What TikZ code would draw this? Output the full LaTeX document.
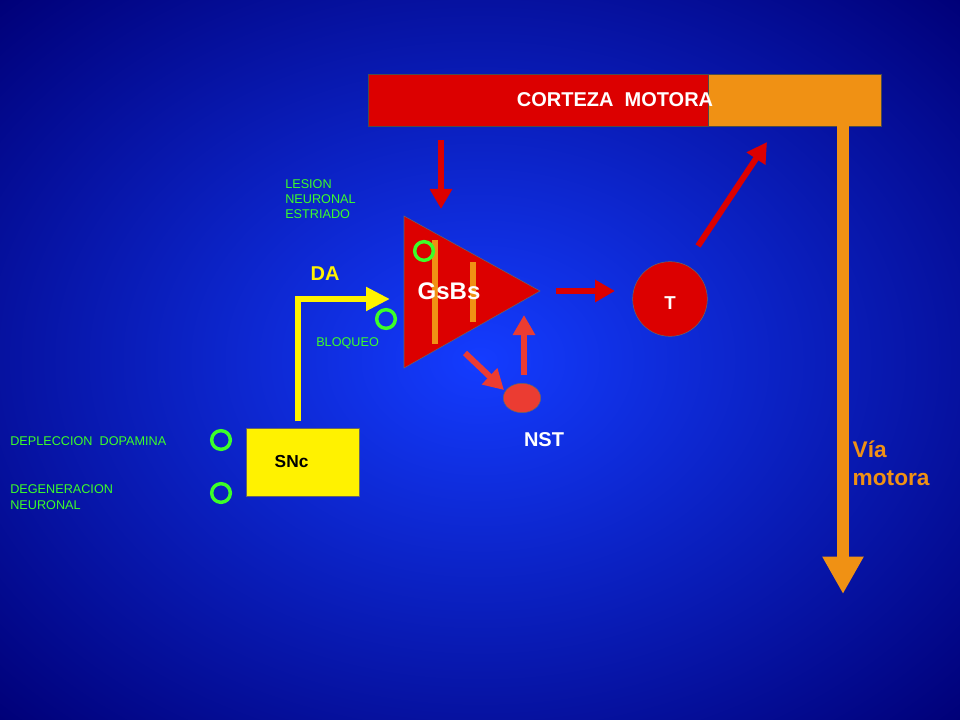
\documentclass[tikz,border=0pt]{standalone}
\usepackage{fontspec}
\setmainfont{Liberation Sans}
\usetikzlibrary{arrows.meta,positioning,shapes.geometric}
\definecolor{navy}{RGB}{0,0,120}
\definecolor{midblue}{RGB}{20,60,255}
\definecolor{redfill}{RGB}{220,0,0}
\definecolor{orangefill}{RGB}{240,145,20}
\definecolor{lime}{RGB}{60,255,40}
\definecolor{nstred}{RGB}{235,60,50}
\tikzset{
  redarrow/.style={draw=redfill,line width=4.5pt,-{Triangle[width=16pt,length=15pt]}},
  nstarrow/.style={draw=nstred,line width=4.5pt,-{Triangle[width=16pt,length=15pt]}},
  ring/.style={circle,draw=lime,line width=2.6pt,minimum size=14pt,inner sep=0pt},
  note/.style={text=lime,font=\fontsize{9.5}{11.5}\selectfont,align=left,anchor=west,inner sep=0pt},
  bold/.style={font=\bfseries\fontsize{15}{18}\selectfont}
}
\begin{document}
\begin{tikzpicture}[x=0.75pt,y=-0.75pt]
  \useasboundingbox (0,0) rectangle (960,720);
  \clip (0,0) rectangle (960,720);
  \shade[inner color=midblue,outer color=navy] (-200,-150) rectangle (1160,870);
  % corteza
  \fill[redfill,draw=black!70] (368,74) rectangle (708,126);
  \fill[orangefill,draw=black!70] (708,74) rectangle (881,126);
  \node[bold,white] (cortex) at (615,100) {CORTEZA\ \ MOTORA};
  % via motora
  \coordinate (via1) at (843,126);
  \coordinate (via2) at (843,594);
  \draw[orangefill,line width=9pt,-{Triangle[width=29pt,length=28pt]}] (via1) -- (via2);
  \node[text=orangefill,align=left,anchor=west,font=\bfseries\fontsize{17}{21}\selectfont] (via) at (848,463) {Vía\\motora};
  % GsBs
  \draw[fill=redfill,draw=black!60] (404,216) -- (404,368) -- (540,291) -- cycle;
  \fill[orangefill] (432,240) rectangle (438,344);
  \fill[orangefill] (470,262) rectangle (476,322);
  \node[bold,white,font=\bfseries\fontsize{18}{20}\selectfont] (gsbs) at (449,291) {GsBs};
  \node[ring,fill=redfill] (r1) at (424,251) {};
  \node[ring] (r2) at (386,319) {};
  % T
  \node[circle,fill=redfill,draw=black!60,minimum size=56pt] (T) at (670,299) {};
  \node[white,font=\bfseries\fontsize{14}{16}\selectfont] at (670,303) {T};
  % NST
  \node[ellipse,fill=nstred,draw=black!60,minimum width=28pt,minimum height=22pt] (nst) at (522,398) {};
  \node[bold,white] (nstlabel) at (544,440) {NST};
  % red arrows
  \coordinate (a1) at (441,140); \coordinate (a2) at (441,209);
  \draw[redarrow] (a1) -- (a2);
  \coordinate (b1) at (556,291); \coordinate (b2) at (615,291);
  \draw[redarrow] (b1) -- (b2);
  \coordinate (c1) at (698,246); \coordinate (c2) at (767,142);
  \draw[redarrow] (c1) -- (c2);
  \coordinate (d1) at (524,375); \coordinate (d2) at (524,315);
  \draw[nstarrow] (d1) -- (d2);
  \coordinate (e1) at (465,353); \coordinate (e2) at (504,390);
  \draw[nstarrow] (e1) -- (e2);
  % SNc
  \node[fill=yellow,draw=black!60,minimum width=85pt,minimum height=51pt] (snc) at (302.5,462) {};
  \node[font=\bfseries\fontsize{13}{15}\selectfont,anchor=west] at (270,462) {SNc};
  \coordinate (y1) at (298,421); \coordinate (y2) at (390,299);
  \draw[yellow,line width=5pt,-{Triangle[width=17pt,length=18pt]}] (y1) |- (y2);
  \node[bold,yellow] (da) at (325,274) {DA};
  % notes
  \node[note] (lesion) at (285,199) {LESION\\NEURONAL\\ESTRIADO};
  \node[note] (bloq) at (316,343) {BLOQUEO};
  \node[note] (depl) at (10,441) {DEPLECCION\ \ DOPAMINA};
  \node[note] (degen) at (10,497) {DEGENERACION\\NEURONAL};
  \node[ring] (r3) at (221,440) {};
  \node[ring] (r4) at (221,493) {};
\end{tikzpicture}
\end{document}
